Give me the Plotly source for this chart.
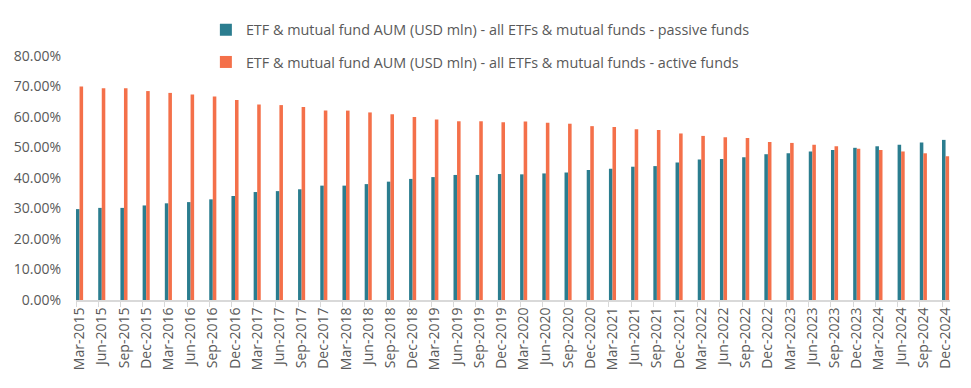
import plotly.graph_objects as go

categories = [
    "Mar-2015", "Jun-2015", "Sep-2015", "Dec-2015",
    "Mar-2016", "Jun-2016", "Sep-2016", "Dec-2016",
    "Mar-2017", "Jun-2017", "Sep-2017", "Dec-2017",
    "Mar-2018", "Jun-2018", "Sep-2018", "Dec-2018",
    "Mar-2019", "Jun-2019", "Sep-2019", "Dec-2019",
    "Mar-2020", "Jun-2020", "Sep-2020", "Dec-2020",
    "Mar-2021", "Jun-2021", "Sep-2021", "Dec-2021",
    "Mar-2022", "Jun-2022", "Sep-2022", "Dec-2022",
    "Mar-2023", "Jun-2023", "Sep-2023", "Dec-2023",
    "Mar-2024", "Jun-2024", "Sep-2024", "Dec-2024",
]

passive = [
    0.298, 0.302, 0.302, 0.310,
    0.317, 0.321, 0.330, 0.341,
    0.354, 0.357, 0.363, 0.375,
    0.375, 0.380, 0.388, 0.397,
    0.403, 0.410, 0.410, 0.413,
    0.412, 0.415, 0.418, 0.426,
    0.430, 0.437, 0.439, 0.451,
    0.461, 0.462, 0.468, 0.478,
    0.481, 0.487, 0.492, 0.499,
    0.504, 0.509, 0.516, 0.525,
]

active = [
    0.700, 0.694, 0.694, 0.685,
    0.679, 0.674, 0.667, 0.656,
    0.641, 0.639, 0.633, 0.621,
    0.621, 0.615, 0.609, 0.600,
    0.592, 0.586, 0.586, 0.583,
    0.585, 0.581, 0.578, 0.570,
    0.567, 0.560, 0.557, 0.546,
    0.538, 0.534, 0.531, 0.518,
    0.515, 0.509, 0.504, 0.496,
    0.492, 0.487, 0.481, 0.471,
]

series_names = [
    "ETF & mutual fund AUM (USD mln) - all ETFs & mutual funds - passive funds",
    "ETF & mutual fund AUM (USD mln) - all ETFs & mutual funds - active funds",
]
colors = ["#2B7D8F", "#F4704A"]

idx = list(range(len(categories)))
FONT = "Open Sans, Noto Sans, sans-serif"
TXT = "#595959"

fig = go.Figure()
fig.add_trace(go.Bar(x=idx, y=passive, name=series_names[0],
                     marker=dict(color=colors[0], line=dict(width=0)),
                     legend="legend"))
fig.add_trace(go.Bar(x=idx, y=active, name=series_names[1],
                     marker=dict(color=colors[1], line=dict(width=0)),
                     legend="legend2"))

leg_common = dict(xanchor="left", yanchor="middle",
                  font=dict(family=FONT, size=14.4, color=TXT),
                  bgcolor="rgba(0,0,0,0)", itemwidth=30, borderwidth=0)

fig.update_layout(
    width=971, height=388,
    margin=dict(l=76, r=21, t=56, b=88, autoexpand=False),
    paper_bgcolor="white", plot_bgcolor="white",
    barmode="group", bargap=0.68, bargroupgap=0,
    font=dict(family=FONT, size=14, color=TXT),
    showlegend=True,
    legend=dict(x=0.1486, y=1.107, **leg_common),
    legend2=dict(x=0.1486, y=0.975, **leg_common),
    xaxis=dict(
        range=[-0.16, 39.2],
        tickmode="array", tickvals=idx, ticktext=categories,
        tickangle=-90, ticks="", showgrid=False,
        showline=True, linecolor="#D9D9D9", linewidth=2,
        tickfont=dict(family=FONT, size=14, color=TXT),
        minor=dict(tickmode="array", tickvals=[i - 0.16 for i in idx],
                   ticks="outside", ticklen=5, tickcolor="#D9D9D9",
                   tickwidth=1, showgrid=False),
        zeroline=False,
    ),
    yaxis=dict(
        range=[0, 0.8], tickvals=[i / 10 for i in range(9)],
        tickformat=".2%", showgrid=False, zeroline=False, showline=False,
        ticks="", ticklabelstandoff=14,
        tickfont=dict(family=FONT, size=14, color=TXT),
    ),
)

fig.write_html("out.html",
               config={"displayModeBar": False},
               post_script="document.body.style.margin='0';document.body.style.padding='0';")
